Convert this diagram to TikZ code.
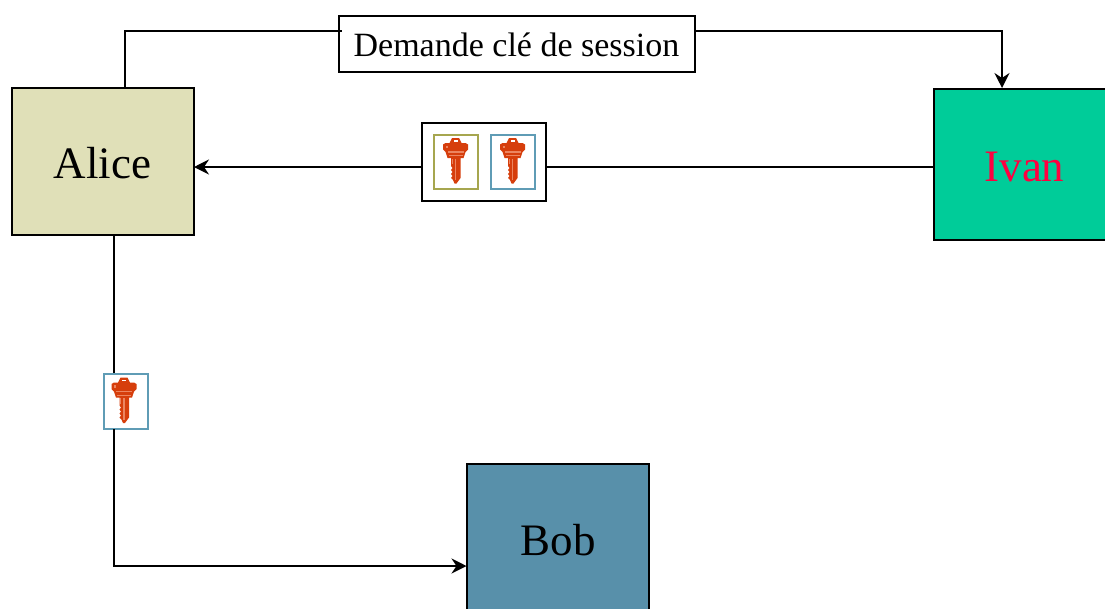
\documentclass[tikz,border=0pt]{standalone}
\usepackage{fontspec}
\setmainfont{Liberation Serif}
\usetikzlibrary{arrows.meta}
\definecolor{alicefill}{HTML}{E0E0B8}
\definecolor{ivanfill}{HTML}{00CC99}
\definecolor{bobfill}{HTML}{5890AA}
\definecolor{ivantext}{HTML}{FF0040}
\definecolor{oliveline}{HTML}{A6A64F}
\definecolor{blueline}{HTML}{5F9CB5}
\definecolor{keydark}{HTML}{D63E0C}
\definecolor{keylight}{HTML}{EC8560}
\tikzset{
  party/.style={draw=black,line width=2pt,minimum width=182pt,inner sep=0pt,font=\fontsize{45}{45}\selectfont},
  labelbox/.style={draw=black,fill=white,line width=2pt,inner sep=0pt},
  keyframe/.style={draw=#1,fill=white,line width=2pt,minimum width=44pt,minimum height=54pt,inner sep=0pt},
  conn/.style={draw=black,line width=2pt},
  arr/.style={conn,-{Stealth[length=15pt,width=15pt,inset=5pt]}},
  keyicon/.pic={
    \fill[keydark] (-12.5,-15.5) -- (-10,-17) -- (-6,-17) -- (-3.5,-22) -- (3.5,-22) -- (6,-17) -- (10,-17) -- (12.5,-15.5) -- (12.5,-10.5) -- (10,-8) -- (8,-2) -- (5,-2) -- (5,18) -- (1,23.5) -- (-1,23.5) -- (-2.5,20) -- (-4.5,18) -- (-3,16) -- (-4.5,14) -- (-3,12) -- (-4.5,10) -- (-3,8) -- (-4.5,6) -- (-4.5,-2) -- (-8,-2) -- (-10,-8) -- (-12.5,-10.5) -- cycle;
    \fill[white] (-2,-20) rectangle (2,-18.3);
    \fill[keylight] (-10,-14.5) rectangle (-8,-12);
    \fill[keylight] (-8,-8.6) rectangle (8,-7.4);
    \fill[keylight] (-7,-5) rectangle (7,-4);
    \fill[keylight] (-1,-1.5) rectangle (0.8,20);
    \fill[keylight] (-4,-1.5) rectangle (-3,4);
  }
}
\begin{document}
\begin{tikzpicture}[x=1pt,y=-1pt]
\useasboundingbox (0,0) rectangle (1105,608);
\clip (0,0) rectangle (1105,608);
\fill[white] (0,0) rectangle (1105,608);
\node[party,fill=alicefill,minimum height=147pt,text height=34pt,text depth=0pt] (alice) at (102.5,161) {Alice};
\node[party,fill=ivanfill,text=ivantext,minimum height=151pt,text height=35.4pt,text depth=0pt] (ivan) at (1024.5,164) {Ivan};
\node[party,fill=bobfill,minimum height=154pt] (bob) at (558,540.5) {Bob};
\node[labelbox,minimum width=356pt,minimum height=56pt,text height=26pt,text depth=0pt,font=\fontsize{34}{34}\selectfont] (demande) at (516.5,43.5) {Demande clé de session};
\node[labelbox,minimum width=123.5pt,minimum height=78pt] (keybox) at (484,161.5) {};
\node[keyframe=oliveline] (keyA) at (455.5,161.5) {};
\node[keyframe=blueline] (keyB) at (512.5,161.5) {};
\node[keyframe=blueline,minimum height=55pt] (keyC) at (125.5,401) {};
\pic at ([yshift=1.5pt]keyA) {keyicon};
\pic at ([yshift=1.5pt]keyB) {keyicon};
\pic at ([xshift=-1.5pt,yshift=1.5pt]keyC) {keyicon};
\coordinate (a1) at (125,87);
\coordinate (a2) at (342,30.5);
\coordinate (d1) at (695,30.5);
\coordinate (i1) at (1002,88);
\coordinate (i2) at (933,167);
\coordinate (k1) at (546,167);
\coordinate (k2) at (422,167);
\coordinate (a3) at (194,167);
\coordinate (a4) at (114,235);
\coordinate (c1) at (114,373);
\coordinate (c2) at (114,429);
\coordinate (b1) at (466.5,566);
\draw[conn] (a1) |- (a2);
\draw[arr] (d1) -| (i1);
\draw[conn] (i2) -- (k1);
\draw[arr] (k2) -- (a3);
\draw[conn] (a4) -- (c1);
\draw[arr] (c2) |- (b1);
\end{tikzpicture}
\end{document}
